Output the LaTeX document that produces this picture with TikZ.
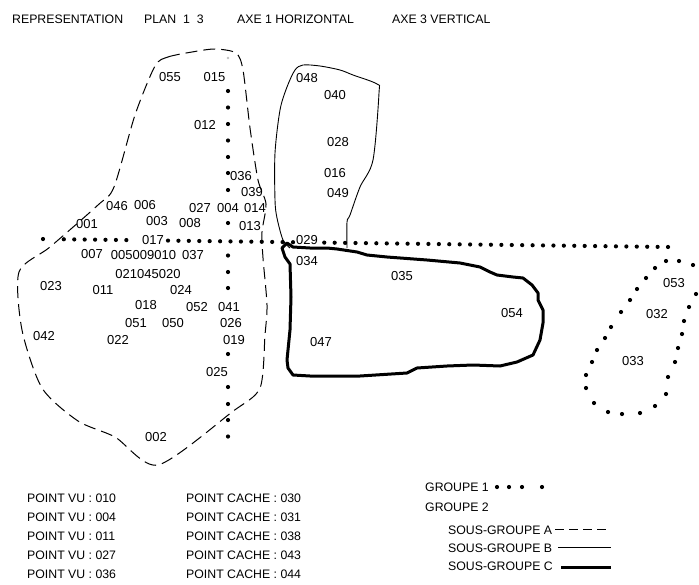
\documentclass[tikz,border=0pt]{standalone}
\usepackage{fontspec}
\setmainfont{Liberation Sans}
\begin{document}
\begin{tikzpicture}[x=1pt,y=-1pt,
  lbl/.style={inner sep=0pt, font=\fontsize{13}{15}\selectfont},
  txt/.style={inner sep=0pt, anchor=west, font=\fontsize{12.3}{14}\selectfont},
  grpA/.style={line width=1pt, dash pattern=on 12pt off 6pt},
  grpB/.style={line width=0.9pt},
  grpC/.style={line width=3pt, line join=round, line cap=round},
  gdot/.style={fill=black}]
\useasboundingbox (0,0) rectangle (699,584);
% header
\node[txt] (h1) at (12,19.5) {REPRESENTATION};
\node[txt] (h2) at (144,19.5) {PLAN \ 1 \ 3};
\node[txt] (h3) at (237,19.5) {AXE 1 HORIZONTAL};
\node[txt] (h4) at (392,19.5) {AXE 3 VERTICAL};
% horizontal axis dots
\foreach \k in {0,2,3,4,5,6,7,8,12,13,14,15,16,17,18,19,20,21,22,23,24,27,28,29,30,31,32,33,34,35,36,37,38,39,40,41,42,43,44,45,46,47,48,49,50,51,52,53,54,55,56,57,58,59,60}
  \fill[gdot] ({43+10.417*\k},{239+0.1333*\k}) circle (2.1pt);
% vertical axis dots
\foreach \yy in {91,107.5,124,140.5,157,173,190,223,255.5,272,288,354,387,404,420,436.5}
  \fill[gdot] (228,\yy) circle (2.1pt);
\fill[gray!50] (228,58) circle (1.3pt);
% group 1 loop (right)
\foreach \p in {(666,261),(679,261),(693,265),(655,268),(696,294),(646,278),(689,307),(637,289),(684,321),(630,300),(682,334),(621,312),(678,348),(611,327),(675,362),(605,338),(597,350),(668,377),(592,362),(666,394),(586,375),(586,388),(655,406),(594,403),(608,412),(622,414),(640,413)}
  \fill[gdot] \p circle (2.1pt);
% sous-groupe A (dashed)
\draw[grpA] plot[smooth cycle, tension=0.45] coordinates {
 (155,66) (168,57) (192,52) (215,49) (236,53) (243,70) (250,128) (258,180) (266,204)
 (262,232) (263,258) (267,305) (265,335) (260,388) (232,412) (158,465) (115,437)
 (78,421) (42,388) (22,330) (19,272) (50,247) (98,205) (114,187) (135,115)};
% sous-groupe B (thin)
\draw[grpB] plot[smooth, tension=0.5] coordinates {
 (290,248) (283,240) (277,218) (275,200) (275,153) (280,110) (287,87) (295,70) (303,65)
 (320,66) (340,70) (353,75) (377,84) (379,93) (373,160) (360,187) (350,215) (347,222) (347,248)};
% sous-groupe C (thick)
\draw[grpC] (282,248) -- (285,257) -- (290,264) -- (291,297) -- (290,330) -- (287,360) -- (288,368)
 -- (293,375) -- (310,376) -- (360,376) -- (407,373) -- (417,368) -- (447,366) -- (473,365)
 -- (500,366) -- (517,362) -- (533,355) -- (540,340) -- (543,323) -- (543,310) -- (538,300)
 -- (538,293) -- (532,285) -- (523,278) -- (513,277) -- (497,275) -- (490,272) -- (480,267)
 -- (460,263) -- (427,260) -- (387,257) -- (367,255) -- (357,252) -- (337,249) -- (327,248)
 -- (310,248) -- (293,247) -- (287,243) -- cycle;
% point labels
\node[lbl] (n055) at (170,77) {055};
\node[lbl] (n015) at (214.5,77) {015};
\node[lbl] (n012) at (205,125) {012};
\node[lbl] (n036) at (241,176) {036};
\node[lbl] (n039) at (252,192) {039};
\node[lbl] (n027) at (200,208) {027};
\node[lbl] (n004) at (228,208) {004};
\node[lbl] (n014) at (255,208) {014};
\node[lbl] (n046) at (117,206) {046};
\node[lbl] (n006) at (145,205) {006};
\node[lbl] (n001) at (87,224) {001};
\node[lbl] (n003) at (157,221) {003};
\node[lbl] (n008) at (190,223) {008};
\node[lbl] (n013) at (250,226) {013};
\node[lbl] (n017) at (153,240) {017};
\node[lbl] (n029) at (307,240) {029};
\node[lbl] (n007) at (92,254) {007};
\node[lbl] (n005) at (143.5,255) {005009010};
\node[lbl] (n037) at (193,255) {037};
\node[lbl] (n021) at (148,274) {021045020};
\node[lbl] (n023) at (51,286) {023};
\node[lbl] (n011) at (103,290) {011};
\node[lbl] (n024) at (181,290) {024};
\node[lbl] (n018) at (146,305) {018};
\node[lbl] (n052) at (197,307) {052};
\node[lbl] (n041) at (229,307) {041};
\node[lbl] (n051) at (136,323) {051};
\node[lbl] (n050) at (173,323) {050};
\node[lbl] (n026) at (231,323) {026};
\node[lbl] (n042) at (44,336) {042};
\node[lbl] (n022) at (118,340) {022};
\node[lbl] (n019) at (234,340) {019};
\node[lbl] (n025) at (217,372) {025};
\node[lbl] (n002) at (156,437) {002};
\node[lbl] (n048) at (307,78) {048};
\node[lbl] (n040) at (335,95) {040};
\node[lbl] (n028) at (338,142) {028};
\node[lbl] (n016) at (335,173) {016};
\node[lbl] (n049) at (338,193) {049};
\node[lbl] (n034) at (307,261) {034};
\node[lbl] (n035) at (402,276) {035};
\node[lbl] (n054) at (512,313) {054};
\node[lbl] (n047) at (321,342) {047};
\node[lbl] (n053) at (674,283) {053};
\node[lbl] (n032) at (657,314) {032};
\node[lbl] (n033) at (633,361) {033};
% bottom lists
\node[txt] (v1) at (27,498) {POINT VU : 010};
\node[txt] (v2) at (27,517) {POINT VU : 004};
\node[txt] (v3) at (27,536) {POINT VU : 011};
\node[txt] (v4) at (27,555) {POINT VU : 027};
\node[txt] (v5) at (27,574) {POINT VU : 036};
\node[txt] (c1) at (186,498) {POINT CACHE : 030};
\node[txt] (c2) at (186,517) {POINT CACHE : 031};
\node[txt] (c3) at (186,536) {POINT CACHE : 038};
\node[txt] (c4) at (186,555) {POINT CACHE : 043};
\node[txt] (c5) at (186,574) {POINT CACHE : 044};
% legend
\node[txt] (g1) at (425,487) {GROUPE 1};
\foreach \xx in {497,509,522,542} \fill[gdot] (\xx,487) circle (2.1pt);
\node[txt] (g2) at (425,507) {GROUPE 2};
\node[txt] (sa) at (448,530) {SOUS-GROUPE A};
\node[txt] (sb) at (448,548) {SOUS-GROUPE B};
\node[txt] (sc) at (448,566) {SOUS-GROUPE C};
\coordinate (la1) at (555,529); \coordinate (la2) at (609,529);
\coordinate (lb1) at (558,547); \coordinate (lb2) at (611,547);
\coordinate (lc1) at (561,567); \coordinate (lc2) at (611,567);
\draw[line width=1pt, dash pattern=on 9pt off 5pt] (la1) -- (la2);
\draw[line width=1pt] (lb1) -- (lb2);
\draw[line width=3pt] (lc1) -- (lc2);
\end{tikzpicture}
\end{document}
